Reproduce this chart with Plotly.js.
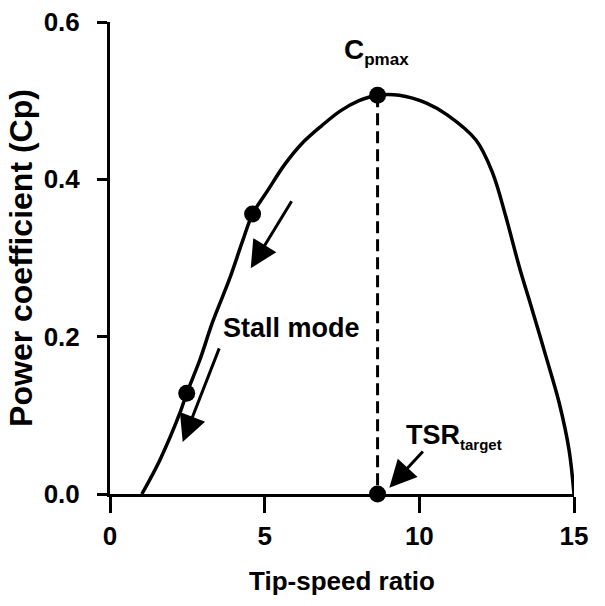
<!DOCTYPE html>
<html>
<head>
<meta charset="utf-8">
<script src="https://cdn.plot.ly/plotly-3.0.1.min.js"></script>
<style>html,body{margin:0;padding:0;background:#fff;}#chart{width:605px;height:606px;}</style>
</head>
<body>
<div id="chart"></div>
<script>
// Cp - TSR curve
var tsr = [1.03, 1.61, 2.26, 2.48, 2.9, 3.32, 3.87, 4.29, 4.61, 5.1, 5.65, 6.19, 6.84, 7.45, 8.05, 8.65, 9.35, 10.23, 10.9, 11.83, 12.37, 12.8, 13.23, 13.65, 14.1, 14.52, 14.84, 15.0];
var cp  = [0.0, 0.043, 0.103, 0.128, 0.170, 0.219, 0.274, 0.322, 0.356, 0.386, 0.419, 0.445, 0.468, 0.487, 0.500, 0.507, 0.507, 0.497, 0.482, 0.450, 0.408, 0.352, 0.289, 0.234, 0.174, 0.116, 0.056, 0.0];

// highlighted operating points
var ptX = [2.48, 4.61, 8.65, 8.65];
var ptY = [0.128, 0.356, 0.507, 0.0];

// Cpmax drop line
var dropX = [8.65, 8.65];
var dropY = [0.507, 0.0];

// arrows: tail -> head
var arrowTailX = [5.9, 3.55, 10.16];
var arrowTailY = [0.374, 0.187, 0.056];
var arrowHeadX = [4.55, 2.35, 9.03];
var arrowHeadY = [0.287, 0.066, 0.008];

// labels
var labelText = ["Stall mode",
  "C<sub><span style=\"font-size:17px\">pmax</span></sub>",
  "TSR<sub><span style=\"font-size:15px\">target</span></sub>"];
var labelX = [3.6, 7.5, 9.5];
var labelY = [0.211, 0.538, 0.05];

var xTicks = [0, 5, 10, 15];
var yTicks = [0.0, 0.2, 0.4, 0.6];
var yTickText = ["0.0", "0.2", "0.4", "0.6"];

var FONT = "'Liberation Sans', Arial, Helvetica, sans-serif";

var traces = [
  {x: tsr, y: cp, mode: 'lines', line: {color: '#000', width: 3.5, shape: 'spline', smoothing: 1}, hoverinfo: 'skip', cliponaxis: false},
  {x: dropX, y: dropY, mode: 'lines', line: {color: '#000', width: 3, dash: '12px,6px'}, hoverinfo: 'skip', cliponaxis: false},
  {x: ptX, y: ptY, mode: 'markers', marker: {color: '#000', size: 17, opacity: 1, line: {width: 0}}, hoverinfo: 'skip', cliponaxis: false}
];

var annotations = [];
for (var i = 0; i < arrowTailX.length; i++) {
  annotations.push({
    x: arrowHeadX[i], y: arrowHeadY[i], xref: 'x', yref: 'y',
    ax: arrowTailX[i], ay: arrowTailY[i], axref: 'x', ayref: 'y',
    text: '', showarrow: true, arrowhead: 2, arrowsize: 1.8, arrowwidth: 3, arrowcolor: '#000'
  });
}
var labelSizes = [27, 28, 27];
for (var j = 0; j < labelText.length; j++) {
  annotations.push({
    x: labelX[j], y: labelY[j], xref: 'x', yref: 'y', text: labelText[j],
    showarrow: false, xanchor: 'left', yanchor: j === 0 ? 'middle' : 'bottom',
    font: {family: FONT, size: labelSizes[j], color: '#000', weight: 'bold'}
  });
}

var layout = {
  width: 605, height: 606,
  margin: {l: 110, r: 31, t: 22, b: 112},
  paper_bgcolor: '#fff', plot_bgcolor: '#fff',
  showlegend: false,
  font: {family: FONT, color: '#000', weight: 'bold'},
  xaxis: {
    range: [0, 15], tickvals: xTicks, ticktext: xTicks.map(String),
    showgrid: false, zeroline: false, showline: true, linecolor: '#000', linewidth: 3,
    ticks: 'outside', ticklen: 16, tickwidth: 3, tickcolor: '#000', ticklabelstandoff: 1,
    tickfont: {family: FONT, size: 26, color: '#000', weight: 'bold'},
    title: {text: 'Tip-speed ratio', font: {family: FONT, size: 26, color: '#000', weight: 'bold'}, standoff: 22}
  },
  yaxis: {
    range: [0, 0.6], tickvals: yTicks, ticktext: yTickText,
    showgrid: false, zeroline: false, showline: true, linecolor: '#000', linewidth: 3,
    ticks: 'outside', ticklen: 10, tickwidth: 3, tickcolor: '#000', ticklabelstandoff: 12,
    tickfont: {family: FONT, size: 26, color: '#000', weight: 'bold'},
    title: {text: 'Power coefficient (Cp)', font: {family: FONT, size: 32, color: '#000', weight: 'bold'}, standoff: 2}
  },
  annotations: annotations
};

Plotly.newPlot('chart', traces, layout, {displayModeBar: false, staticPlot: true});
</script>
</body>
</html>
